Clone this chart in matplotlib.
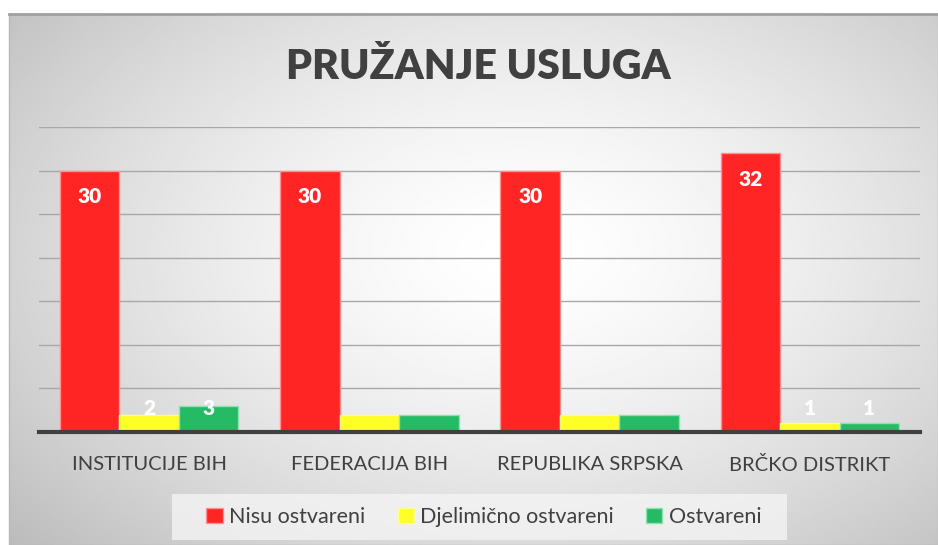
import numpy as np
import matplotlib
matplotlib.use('Agg')
import matplotlib.pyplot as plt
from matplotlib.patches import Patch, Rectangle

plt.rcParams['font.family'] = ['Lato', 'DejaVu Sans']

categories = ["INSTITUCIJE BIH", "FEDERACIJA BIH", "REPUBLIKA SRPSKA", "BRČKO DISTRIKT"]
series_names = ["Nisu ostvareni", "Djelimično ostvareni", "Ostvareni"]
nisu = [30, 30, 30, 32]
djelimicno = [2, 2, 2, 1]
ostvareni = [3, 2, 2, 1]
# which bars show a value label (Federacija and Srpska small bars have none)
show_nisu = [True, True, True, True]
show_djel = [True, False, False, True]
show_ostv = [True, False, False, True]

colors = ['#ff2525', '#ffff25', '#25bb65']
edges = ['#ff9090', '#ffff90', '#90e0b0']

fig = plt.figure(figsize=(9.38, 5.45), dpi=100)

# radial grey background of the chart area
bg = fig.add_axes([9 / 938, 0, 1 - 9 / 938, (545 - 14) / 545])
yy, xx = np.mgrid[0:200, 0:350]
cx, cy = 0.55, 0.45
r = np.sqrt(((xx / 349 - cx) / 0.8) ** 2 + ((yy / 199 - cy) / 0.9) ** 2)
shade = 1 - 0.30 * np.clip(r, 0, 1.2) ** 1.5
bg.imshow(shade, cmap='gray', vmin=0, vmax=1, aspect='auto', extent=[0, 1, 0, 1],
          interpolation='bilinear', origin='upper')
bg.set_xticks([])
bg.set_yticks([])
for s in bg.spines.values():
    s.set_color('#b8b8b8')
    s.set_linewidth(1)
bg.spines['top'].set_color('#a0a0a0')
bg.spines['top'].set_linewidth(2)

ax = fig.add_axes([39 / 938, 1 - 432 / 545, (920 - 39) / 938, (432 - 127) / 545])
ax.patch.set_alpha(0)
x = np.arange(len(categories))
w = 0.27
groups = [(nisu, show_nisu), (djelimicno, show_djel), (ostvareni, show_ostv)]
for i, (vals, show) in enumerate(groups):
    pos = x + (i - 1) * w
    ax.bar(pos, vals, w, color=colors[i], edgecolor=edges[i], linewidth=1, zorder=3,
           label=series_names[i])
    for p, v, sh in zip(pos, vals, show):
        if not sh:
            continue
        ty = v - 3 if v > 10 else 2.75
        ax.text(p, ty, str(v), ha='center', va='center', color='white',
                fontsize=15, fontweight='heavy', zorder=5)

ax.set_xlim(-0.5, len(categories) - 0.5)
ax.set_ylim(0, 35)
ax.set_yticks(np.arange(5, 36, 5))
ax.yaxis.grid(True, color='#a8a8a8', linewidth=1, zorder=0)
ax.tick_params(axis='y', left=False, labelleft=False)
ax.tick_params(axis='x', bottom=False, pad=14)
ax.set_xticks(x)
ax.set_xticklabels(categories, fontsize=14.5, color='#404040')
for s in ['top', 'right', 'left']:
    ax.spines[s].set_visible(False)
ax.spines['bottom'].set_color('#404040')
ax.spines['bottom'].set_linewidth(3)
ax.spines['bottom'].set_zorder(4)

fig.text(0.51, 1 - 67 / 545, "PRUŽANJE USLUGA", ha='center', va='center',
         fontsize=29.5, fontweight='heavy', color='#404040')

# legend background box
fig.patches.append(Rectangle((172 / 938, 1 - 540 / 545), (787 - 172) / 938, 46 / 545,
                             transform=fig.transFigure, facecolor='#f4f4f4', alpha=0.8,
                             edgecolor='none', zorder=1))
handles = [Patch(facecolor=colors[i], edgecolor=edges[i], label=series_names[i]) for i in range(3)]
leg = fig.legend(handles=handles, loc='center', bbox_to_anchor=(484 / 938, 1 - 517 / 545),
                 ncol=3, frameon=False, fontsize=15.5, handlelength=0.75, handleheight=0.75,
                 handletextpad=0.3, columnspacing=1.5)
for t in leg.get_texts():
    t.set_color('#404040')

fig.savefig('out.png', dpi=100)
